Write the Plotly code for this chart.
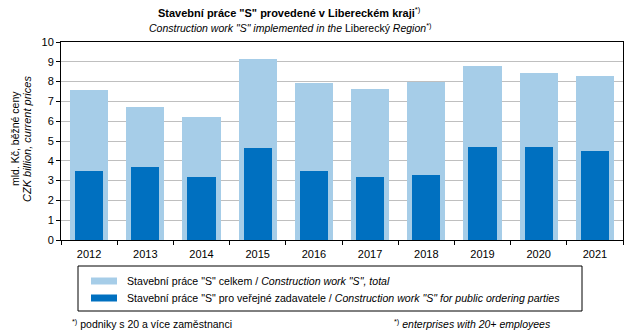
import plotly.graph_objects as go

years = ["2012", "2013", "2014", "2015", "2016", "2017", "2018", "2019", "2020", "2021"]
total = [7.58, 6.72, 6.21, 9.14, 7.93, 7.63, 8.00, 8.79, 8.43, 8.28]
public = [3.48, 3.68, 3.18, 4.65, 3.48, 3.18, 3.28, 4.70, 4.70, 4.49]
yticks = [0, 1, 2, 3, 4, 5, 6, 7, 8, 9, 10]

name_total = 'Stavební práce "S" celkem / <i>Construction work "S", total</i>'
name_public = 'Stavební práce "S" pro veřejné zadavatele / <i>Construction work "S" for public ordering parties</i>'

LIGHT = "#A6CDE8"
DARK = "#0070C0"
FONT = "Liberation Sans, Arial, sans-serif"

W, H = 631, 336
L, R, T, B = 61, 8, 42, 96
PW, PH = W - L - R, H - T - B


def px(x):
    return (x - L) / PW


def py(y):
    return (H - B - y) / PH


fig = go.Figure()
fig.add_bar(x=years, y=total, width=0.68, marker=dict(color=LIGHT, line_width=0),
            name=name_total, showlegend=False)
fig.add_bar(x=years, y=public, width=0.5, marker=dict(color=DARK, line_width=0),
            name=name_public, showlegend=False)

ann = []
ann.append(dict(x=px(289), y=py(12), xref="paper", yref="paper", showarrow=False,
                text='<b>Stavební práce "S" provedené v Libereckém kraji</b><sup>*)</sup>',
                font=dict(size=11, color="black", family=FONT), xanchor="center", yanchor="middle"))
ann.append(dict(x=px(290), y=py(27), xref="paper", yref="paper", showarrow=False,
                text='<i>Construction work "S" implemented in the </i>Liberecký<i> Region</i><sup>*)</sup>',
                font=dict(size=10.5, color="black", family=FONT), xanchor="center", yanchor="middle"))
ann.append(dict(x=px(15), y=py(139), xref="paper", yref="paper", showarrow=False, textangle=-90,
                text='mld. Kč, běžné ceny', font=dict(size=10.5, color="black", family=FONT),
                xanchor="center", yanchor="middle"))
ann.append(dict(x=px(27), y=py(139), xref="paper", yref="paper", showarrow=False, textangle=-90,
                text='<i>CZK billion, current prices</i>', font=dict(size=11, color="black", family=FONT),
                xanchor="center", yanchor="middle"))
# legend text
for yy, nm in [(281, name_total), (298, name_public)]:
    ann.append(dict(x=px(125), y=py(yy), xref="paper", yref="paper", showarrow=False,
                    text=nm, font=dict(size=10.6, color="black", family=FONT),
                    xanchor="left", yanchor="middle"))
# footnotes
ann.append(dict(x=px(70), y=py(323), xref="paper", yref="paper", showarrow=False,
                text='<sup>*)</sup> podniky s 20 a více zaměstnanci',
                font=dict(size=10.5, color="black", family=FONT), xanchor="left", yanchor="middle"))
ann.append(dict(x=px(553), y=py(323), xref="paper", yref="paper", showarrow=False,
                text='<sup>*)</sup> <i>enterprises with 20+ employees</i>',
                font=dict(size=10.5, color="black", family=FONT), xanchor="right", yanchor="middle"))

shapes = []
shapes.append(dict(type="rect", xref="paper", yref="paper", x0=px(78), x1=px(582), y0=py(266), y1=py(311),
                   line=dict(color="black", width=1), fillcolor="rgba(0,0,0,0)"))
for yy, c in [(281, LIGHT), (298, DARK)]:
    shapes.append(dict(type="rect", xref="paper", yref="paper", x0=px(91), x1=px(117),
                       y0=py(yy - 3.5), y1=py(yy + 3.5), line=dict(width=0), fillcolor=c))

fig.update_layout(
    width=W, height=H, margin=dict(l=L, r=R, t=T, b=B),
    barmode="overlay", bargap=0,
    paper_bgcolor="white", plot_bgcolor="white",
    font=dict(family=FONT, size=11, color="black"),
    showlegend=False, annotations=ann, shapes=shapes,
)
fig.update_xaxes(type="category", showline=True, linecolor="black", linewidth=1, mirror=True,
                 ticks="outside", tickson="boundaries", ticklen=4, tickcolor="black",
                 showgrid=False, tickfont=dict(size=11), ticklabelstandoff=4)
fig.update_yaxes(range=[0, 10], tickvals=yticks, showline=True, linecolor="black", linewidth=1, mirror=True,
                 ticks="outside", ticklen=4, tickcolor="black", showgrid=True, gridcolor="#BFBFBF",
                 gridwidth=1, zeroline=False, tickfont=dict(size=11))

fig.write_html("out.html")
